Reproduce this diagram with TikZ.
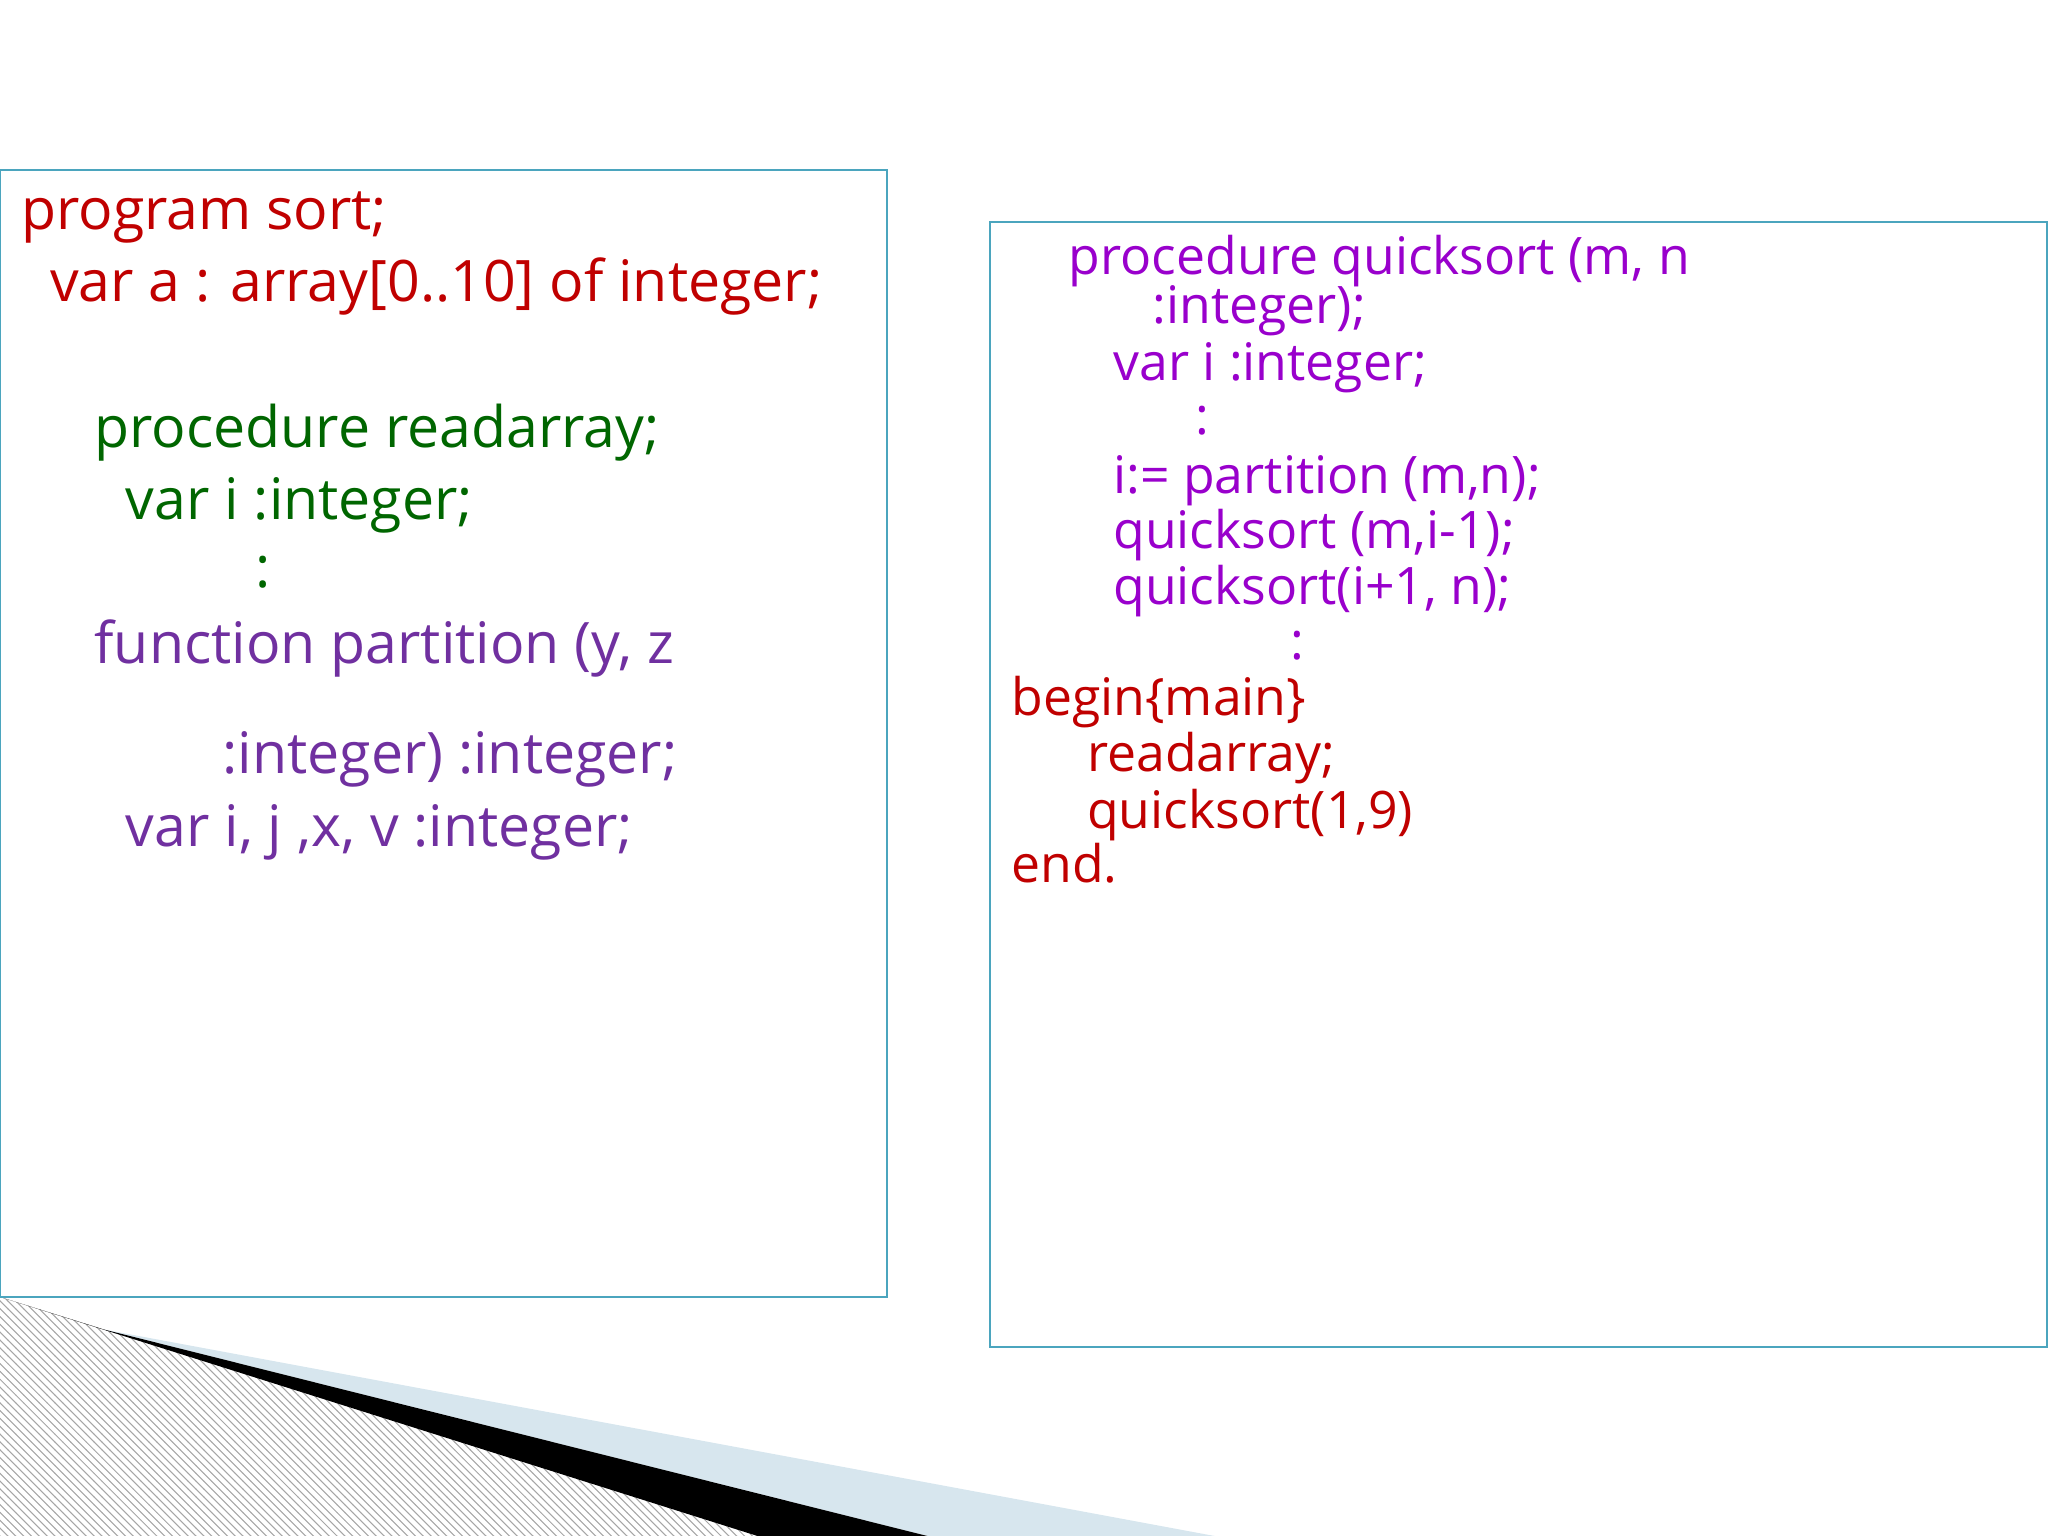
\documentclass[tikz,border=0pt]{standalone}
\usepackage{fontspec}
\setmainfont{Open Sans}
\usetikzlibrary{patterns}
\definecolor{tealb}{RGB}{75,165,190}
\definecolor{cred}{RGB}{192,0,0}
\definecolor{cgreen}{RGB}{0,102,0}
\definecolor{cpurp}{RGB}{112,48,160}
\definecolor{cviol}{RGB}{153,0,204}
\definecolor{lblue}{RGB}{215,230,238}
\begin{document}
\begin{tikzpicture}[x=0.5pt,y=-0.5pt,
  L/.style={anchor=base west,inner sep=0pt,font=\fontsize{21.9pt}{22pt}\selectfont},
  R/.style={anchor=base west,inner sep=0pt,font=\fontsize{19.8pt}{20pt}\selectfont},
  box/.style={draw=tealb,line width=0.8pt}]
\useasboundingbox (0,0) rectangle (1568,1176);
% bottom decoration
\fill[pattern=north west lines,pattern color=gray!70] (0,993) -- (80,1018) -- (580,1176) -- (0,1176) -- cycle;
\fill[lblue] (80,1018) -- (930,1176) -- (710,1176) -- cycle;
\fill[black] (0,993) -- (80,1018) -- (710,1176) -- (580,1176) -- cycle;
\draw[box] (0,130) rectangle (679,993);
\draw[box] (758,170) rectangle (1567,1031);
% left
\node[L,text=cred] (l1) at (16,176) {program sort;};
\node[L,text=cred] (l2) at (38,231) {var a : array[0..10] of integer;};
\node[L,text=cgreen] (l3) at (72,343) {procedure readarray;};
\node[L,text=cgreen] (l4) at (96,398) {var i :integer;};
\node[L,text=cgreen] (l5) at (195,450) {:};
\node[L,text=cpurp] (l6) at (72,508) {function partition (y, z};
\node[L,text=cpurp] (l7) at (170,592) {:integer) :integer;};
\node[L,text=cpurp] (l8) at (96,648) {var i, j ,x, v :integer;};
% right
\node[R,text=cviol] (r1) at (818,210) {procedure quicksort (m, n};
\node[R,text=cviol] (r2) at (882,248) {:integer);};
\node[R,text=cviol] (r3) at (852,291) {var i :integer;};
\node[R,text=cviol] (r4) at (915,333) {:};
\node[R,text=cviol] (r5) at (852,378) {i:= partition (m,n);};
\node[R,text=cviol] (r6) at (852,420) {quicksort (m,i-1);};
\node[R,text=cviol] (r7) at (852,463) {quicksort(i+1, n);};
\node[R,text=cviol] (r8) at (988,505) {:};
\node[R,text=cred] (r9) at (774,548) {begin\{main\}};
\node[R,text=cred] (r10) at (832,591) {readarray;};
\node[R,text=cred] (r11) at (832,634) {quicksort(1,9)};
\node[R,text=cred] (r12) at (774,676) {end.};
\end{tikzpicture}
\end{document}
